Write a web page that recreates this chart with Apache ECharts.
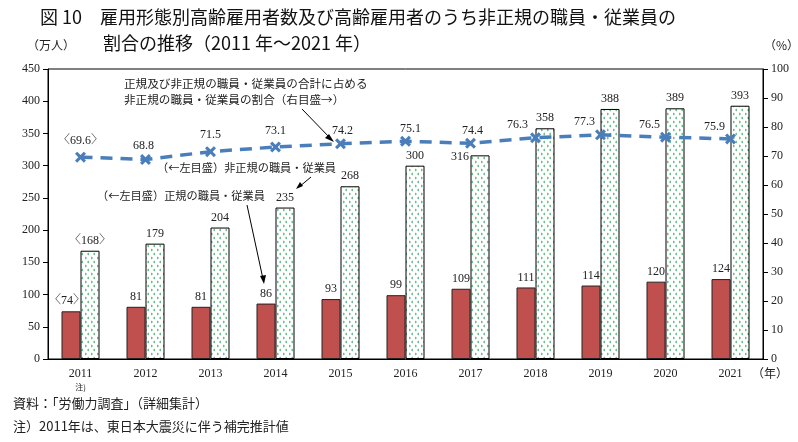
<!DOCTYPE html>
<html><head><meta charset="utf-8">
<script src="https://cdn.jsdelivr.net/npm/echarts@6/dist/echarts.min.js"></script>
<style>html,body{margin:0;padding:0;background:#fff}#c{width:798px;height:442px}</style>
</head><body><div id="c"></div>
<script>
var years = ['2011','2012','2013','2014','2015','2016','2017','2018','2019','2020','2021'];
var regular = [74, 81, 81, 86, 93, 99, 109, 111, 114, 120, 124];
var nonRegular = [168, 179, 204, 235, 268, 300, 316, 358, 388, 389, 393];
var nonRegularShare = [69.6, 68.8, 71.5, 73.1, 74.2, 75.1, 74.4, 76.3, 77.3, 76.5, 75.9];
var leftTicks = [0, 450, 50];
var rightTicks = [0, 100, 10];

var SERIF = '"Liberation Serif","Noto Serif CJK JP","Noto Sans CJK JP",serif';
var JP = '"Noto Sans CJK JP",sans-serif';

// pattern tile for non-regular bars
var tile = document.createElement('canvas');
tile.width = 6; tile.height = 8;
var g = tile.getContext('2d');
g.fillStyle = '#fff'; g.fillRect(0,0,6,8);
g.strokeStyle = '#3aa862'; g.lineWidth = 0.9;
g.beginPath(); g.moveTo(1,1); g.lineTo(2.5,2); g.lineTo(1,3); g.stroke();
g.beginPath(); g.moveTo(5,5); g.lineTo(3.5,6); g.lineTo(5,7); g.stroke();

var lineShift = [[0,0],[-2,3],[0,0],[0,0],[2,4],[5,4],[2,4],[-18,4],[-16,4],[-16,4],[-16,4]];
var xMark = 'path://M0,2L2,0L5,3L8,0L10,2L7,5L10,8L8,10L5,7L2,10L0,8L3,5Z';

var chart = echarts.init(document.getElementById('c'));
chart.setOption({
  animation: false,
  backgroundColor: '#fff',
  grid: {left: 48, right: 35, top: 69, bottom: 83, show: true, borderColor: '#000', borderWidth: 1},
  xAxis: {
    type: 'category', data: years,
    axisLine: {lineStyle: {color: '#000'}}, axisTick: {show: false},
    axisLabel: {fontFamily: SERIF, fontSize: 12, color: '#222', margin: 9,
      formatter: function(v){ return v === '2011' ? v + '\n{n|注)}' : v; },
      rich: {n: {fontFamily: JP, fontSize: 8, color: '#222', lineHeight: 14}}}
  },
  yAxis: [
    {type: 'value', min: leftTicks[0], max: leftTicks[1], interval: leftTicks[2],
     axisLine: {show: true, lineStyle: {color: '#000'}}, axisTick: {show: true, length: 5, lineStyle: {color: '#000'}},
     splitLine: {show: false}, axisLabel: {fontFamily: SERIF, fontSize: 12, color: '#222', margin: 8}},
    {type: 'value', min: rightTicks[0], max: rightTicks[1], interval: rightTicks[2], position: 'right',
     axisLine: {show: true, lineStyle: {color: '#000'}}, axisTick: {show: true, length: 5, lineStyle: {color: '#000'}},
     splitLine: {show: false}, axisLabel: {fontFamily: SERIF, fontSize: 12, color: '#222', margin: 8}}
  ],
  series: [
    {type: 'bar', data: regular.map(function(v, i){
        return i === 0 ? {value: v, label: {offset: [-4, 0]}} : v; }),
     barWidth: 19, barGap: '0%',
     itemStyle: {color: '#c0504d', borderColor: '#222', borderWidth: 1},
     label: {show: true, position: 'top', distance: 4, fontFamily: SERIF, fontSize: 12, color: '#222',
       formatter: function(p){ return p.dataIndex === 0 ? '〈' + p.value + '〉' : String(p.value); }}},
    {type: 'bar', data: nonRegular.map(function(v, i){
        return i === 6 ? {value: v, label: {offset: [-20, 11]}} : v; }),
     barWidth: 19,
     itemStyle: {color: {image: tile, repeat: 'repeat'}, borderColor: '#000', borderWidth: 1},
     label: {show: true, position: 'top', distance: 4, fontFamily: SERIF, fontSize: 12, color: '#222',
       formatter: function(p){ return p.dataIndex === 0 ? '〈' + p.value + '〉' : String(p.value); }}},
    {type: 'line', yAxisIndex: 1, z: 5,
     data: nonRegularShare.map(function(v, i){ return {value: v, label: {offset: lineShift[i]}}; }),
     symbol: xMark, symbolSize: 11,
     itemStyle: {color: '#4a7ebb'},
     lineStyle: {color: '#4a7ebb', width: 3.5, type: [12, 8]},
     label: {show: true, position: 'top', distance: 5, fontFamily: SERIF, fontSize: 12, color: '#222',
       formatter: function(p){ var s = p.value.toFixed(1); return p.dataIndex === 0 ? '〈' + s + '〉' : s; }}}
  ],
  graphic: [
    {type: 'text', left: 40, top: 8, style: {text: '図 10　雇用形態別高齢雇用者数及び高齢雇用者のうち非正規の職員・従業員の', font: '18px ' + JP, fill: '#111'}},
    {type: 'text', left: 103, top: 34, style: {text: '割合の推移（2011 年～2021 年）', font: '18px ' + JP, fill: '#111'}},
    {type: 'text', left: 27, top: 39, style: {text: '（万人）', font: '12px ' + JP, fill: '#222'}},
    {type: 'text', left: 764, top: 39, style: {text: '（%）', font: '12px ' + JP, fill: '#222'}},
    {type: 'text', left: 752, top: 367, style: {text: '（年）', font: '12px ' + JP, fill: '#222'}},
    {type: 'text', left: 124, top: 78, style: {text: '正規及び非正規の職員・従業員の合計に占める', font: '11.6px ' + JP, fill: '#222'}},
    {type: 'text', left: 124, top: 94, style: {text: '非正規の職員・従業員の割合（右目盛→）', font: '11.6px ' + JP, fill: '#222'}},
    {type: 'text', left: 157, top: 162, style: {text: '（←左目盛）非正規の職員・従業員', font: '11.2px ' + JP, fill: '#222'}},
    {type: 'text', left: 97, top: 190, style: {text: '（←左目盛）正規の職員・従業員', font: '11.2px ' + JP, fill: '#222'}},
    {type: 'line', shape: {x1: 302, y1: 109, x2: 331, y2: 139}, style: {stroke: '#000', lineWidth: 1}},
    {type: 'polygon', shape: {points: [[334,142],[325,138],[329,134]]}, style: {fill: '#000'}},
    {type: 'line', shape: {x1: 311, y1: 177, x2: 299, y2: 187}, style: {stroke: '#000', lineWidth: 1}},
    {type: 'polygon', shape: {points: [[296,189],[300,182],[303,186]]}, style: {fill: '#000'}},
    {type: 'line', shape: {x1: 247, y1: 205, x2: 263, y2: 279}, style: {stroke: '#000', lineWidth: 1}},
    {type: 'polygon', shape: {points: [[264,284],[260,276],[266,275]]}, style: {fill: '#000'}},
    {type: 'text', left: 13, top: 397, style: {text: '資料：「労働力調査」（詳細集計）', font: '13px ' + JP, fill: '#222'}},
    {type: 'text', left: 13, top: 420, style: {text: '注）2011年は、東日本大震災に伴う補完推計値', font: '13px ' + JP, fill: '#222'}}
  ]
});
</script></body></html>
